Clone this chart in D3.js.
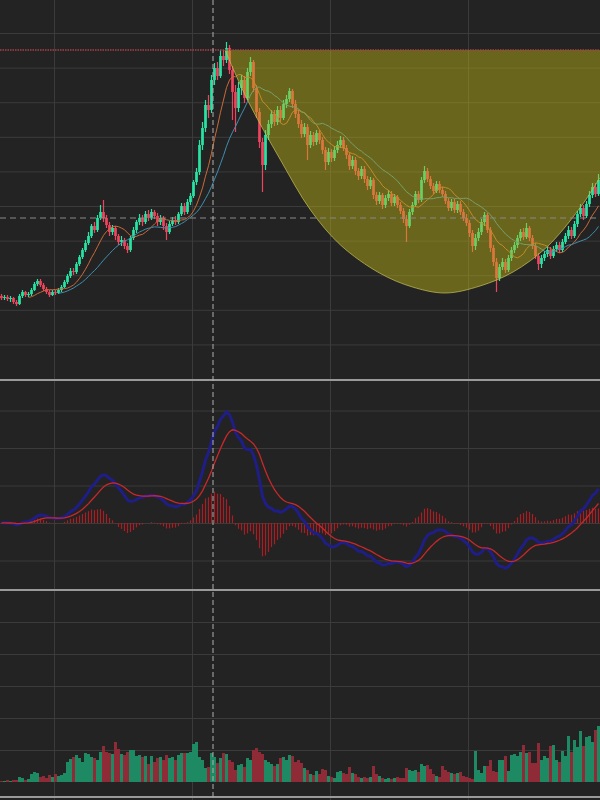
<!DOCTYPE html>
<html><head><meta charset="utf-8">
<script src="https://cdn.jsdelivr.net/npm/d3@7"></script>
<style>html,body{margin:0;padding:0;background:#232323;} svg{display:block;}</style>
</head><body>
<svg id="chart" width="600" height="800"></svg>
<script>
// ---------- data ----------
const opens = [83,81,82,80,81,77,75,83,87,84,
85,89,95,98,94,90,87,84,87,86,
89,92,97,103,108,107,115,122,129,136,
143,153,149,161,167,161,154,147,151,143,
137,139,133,129,141,149,157,161,157,165,
161,167,163,157,161,153,147,155,159,157,
165,173,167,177,183,197,207,234,251,274,
269,299,311,303,323,319,331,309,287,271,
291,299,281,307,317,291,267,237,214,244,
255,265,257,269,261,275,280,288,275,265,
255,245,252,234,244,237,246,239,229,217,
227,221,229,234,239,231,224,213,219,208,
203,210,200,193,199,184,178,184,174,181,
185,176,182,174,168,160,153,167,174,185,
179,199,208,200,193,188,195,189,185,178,
171,177,169,175,167,161,156,146,133,141,
147,157,164,149,131,117,101,112,117,109,
121,129,134,141,147,142,151,141,133,123,
115,121,125,129,123,130,134,129,137,143,
149,143,155,165,171,163,175,184,192,185];
const closes = [81,82,80,81,77,75,83,87,84,85,
89,95,98,94,90,87,84,87,86,89,
92,97,103,108,107,115,122,129,136,143,
153,149,161,167,161,154,147,151,143,137,
139,133,129,141,149,157,161,157,165,161,
167,163,157,161,153,147,155,159,157,165,
173,167,177,183,197,207,234,251,274,269,
299,311,303,323,319,331,309,287,271,291,
299,281,307,317,291,267,237,214,244,255,
265,257,269,261,275,280,288,275,265,255,
245,252,234,244,237,246,239,229,217,227,
221,229,234,239,231,224,213,219,208,203,
210,200,193,199,184,178,184,174,181,185,
176,182,174,168,160,153,167,174,185,179,
199,208,200,193,188,195,189,185,178,171,
177,169,175,167,161,156,146,133,141,147,
157,164,149,131,117,101,112,117,109,121,
129,134,141,147,142,151,141,133,123,115,
121,125,129,123,130,134,129,137,143,149,
143,155,165,171,163,175,184,192,185,199];
const highs = [85,84,84,83,82,79,85,89,88,87,
91,97,100,100,96,92,89,89,89,91,
94,99,105,111,111,117,124,131,139,147,
155,157,164,174,179,164,157,154,153,145,
143,141,136,143,152,159,165,164,168,169,
170,169,166,164,163,156,158,162,163,167,
176,176,180,186,199,211,239,257,279,284,
304,316,317,329,329,337,334,313,294,297,
304,303,311,322,319,294,271,241,249,259,
269,269,273,273,279,284,291,290,279,269,
259,256,255,248,247,249,249,242,232,231,
230,233,238,243,242,234,227,223,222,211,
213,213,203,202,201,187,187,186,184,189,
188,185,184,177,171,164,170,177,188,188,
202,213,211,203,196,198,198,192,188,181,
180,180,178,178,170,165,159,149,145,151,
160,167,166,152,134,121,115,121,120,124,
132,137,144,150,151,156,153,144,136,126,
124,128,132,132,133,137,137,140,146,153,
152,158,168,175,174,178,188,196,196,205];
const lows = [79,79,78,77,75,73,74,81,82,82,
83,88,93,92,88,85,82,83,84,85,
87,91,95,101,104,105,113,120,127,134,
141,146,147,159,157,151,143,144,139,134,
133,130,126,127,139,146,154,153,155,158,
159,160,153,154,149,139,145,153,154,155,
163,164,165,174,181,194,204,229,247,261,
266,294,299,301,313,316,305,259,247,267,
284,276,279,303,287,261,231,187,209,239,
251,253,254,257,259,271,277,271,261,251,
241,242,219,231,233,234,235,225,209,214,
217,218,226,231,228,220,209,210,204,199,
200,196,189,190,180,174,175,170,171,178,
173,173,171,165,156,137,151,164,172,176,
177,196,197,190,185,186,186,182,175,168,
168,166,166,164,158,153,142,127,129,138,
144,153,146,127,113,87,98,109,106,107,
118,126,131,138,139,140,138,130,120,109,
111,118,122,120,121,127,126,127,135,140,
140,141,152,162,159,161,172,181,182,183];
const volumes = [1,1,2,1,2,2,5,4,2,3,
8,10,9,5,6,4,7,5,8,6,
7,9,20,23,25,27,24,20,29,28,
25,24,22,30,36,30,29,28,40,33,
28,27,30,32,32,26,27,25,26,18,
26,20,24,25,22,27,24,25,22,27,
29,29,29,30,38,40,25,22,14,15,
29,25,19,24,29,28,22,20,12,17,
18,15,24,22,32,34,30,28,22,20,
18,16,18,24,25,22,27,26,20,22,
19,14,12,8,7,11,8,13,12,6,
5,4,10,11,9,8,15,9,8,5,
4,5,4,5,16,8,6,4,3,4,
3,4,5,4,4,14,12,11,12,10,
18,16,17,13,8,6,5,16,12,10,
9,8,9,10,6,5,4,3,31,12,
9,16,16,22,11,10,22,22,26,11,
27,28,26,30,37,29,30,19,19,39,
22,26,24,36,37,22,20,31,26,46,
30,42,35,51,36,45,46,40,52,56];

// cup pattern outline (candle index, price)
const cupIndex = [74.5, 82, 93, 103, 113, 126, 137, 148, 159.5, 170.5, 181.8, 192.8, 199.5, 202];
const cupPrice = [329, 279, 219, 169, 134, 106, 92, 86, 93, 107, 132, 171, 201, 212];
const resistancePrice = 329;
const crosshairIndex = 70.5;
const crosshairPrice = 161;
const maPeriods = [10, 20];
const priceGrid = [34.6, 69.2, 103.8, 138.4, 173, 207.6, 242.2, 276.8, 311.4, 346];
const macdGridSteps = [-1, 0, 1, 2, 3];
const volumeGrid = [32, 64, 96, 128, 160];
const xGridIndex = [18, 64, 110, 156];

// ---------- layout ----------
const W = 600, H = 800;
const mainTop = 0, mainBottom = 380;
const macdTop = 381, macdBottom = 590, macdZero = 523, macdStepPx = 37.5;
const volTop = 591, volBase = 782, volBottom = 797;
const upColor = '#27e3a4', downColor = '#f0445e';
const upVol = '#1e8a63', downVol = '#8e2b37';
const gridColor = '#3b3b3b';

const svg = d3.select('#chart');
svg.append('rect').attr('width', W).attr('height', H).attr('fill', '#232323');
const defs = svg.append('defs');
function clip(id, y0, y1) {
  defs.append('clipPath').attr('id', id).append('rect')
    .attr('x', 0).attr('y', y0).attr('width', W).attr('height', y1 - y0);
}
clip('cMain', mainTop, mainBottom);
clip('cMacd', macdTop, macdBottom);
clip('cVol', volTop, volBottom);

const n = closes.length;
const x = d3.scaleLinear().domain([0, n]).range([0, W]);
const cx = i => x(i + 0.5);
const yP = d3.scaleLinear().domain([0, 379]).range([379, 0]);
const yV = d3.scaleLinear().domain([0, volBase - volTop]).range([volBase, volTop]);

// ---------- indicators ----------
function sma(arr, k) { return arr.map((v, i) => i < k - 1 ? null : d3.mean(arr.slice(i - k + 1, i + 1))); }
function ema(arr, k) { const a = 2 / (k + 1); const out = []; arr.forEach((v, i) => out.push(i === 0 ? v : v * a + out[i - 1] * (1 - a))); return out; }
const e12 = ema(closes, 12), e26 = ema(closes, 26);
const dif = e12.map((v, i) => v - e26[i]);
const dea = ema(dif, 9);
const hist = dif.map((v, i) => v - dea[i]);
const macdUnit = d3.max(dif) / ((macdZero - 412) / macdStepPx);
const yM = d3.scaleLinear()
  .domain([-(macdBottom - macdZero) / macdStepPx * macdUnit, (macdZero - macdTop) / macdStepPx * macdUnit])
  .range([macdBottom, macdTop]);

// ---------- grids ----------
const gH = svg.append('g');
gH.append('g').call(d3.axisLeft(yP).tickValues(priceGrid).tickSize(-W).tickFormat(''));
gH.append('g').call(d3.axisLeft(yM).tickValues(macdGridSteps.map(s => s * macdUnit)).tickSize(-W).tickFormat(''));
gH.append('g').call(d3.axisLeft(yV).tickValues(volumeGrid).tickSize(-W).tickFormat(''));
gH.append('g').attr('transform', `translate(0,${H})`)
  .call(d3.axisBottom(x).tickValues(xGridIndex).tickSize(-H).tickFormat(''));
gH.selectAll('.domain').remove();
gH.selectAll('line').attr('stroke', gridColor).attr('stroke-width', 1);

// ---------- main panel ----------
const gMain = svg.append('g').attr('clip-path', 'url(#cMain)');
const idx = d3.range(n);
gMain.selectAll('line.wick').data(idx).join('line')
  .attr('x1', i => cx(i)).attr('x2', i => cx(i))
  .attr('y1', i => yP(highs[i])).attr('y2', i => yP(lows[i]))
  .attr('stroke', i => closes[i] >= opens[i] ? upColor : downColor).attr('stroke-width', 1.2);
const bw = 2.7;
gMain.selectAll('rect.body').data(idx).join('rect')
  .attr('x', i => cx(i) - bw / 2).attr('width', bw)
  .attr('y', i => yP(Math.max(opens[i], closes[i])))
  .attr('height', i => Math.max(1, Math.abs(yP(opens[i]) - yP(closes[i]))))
  .attr('fill', i => closes[i] >= opens[i] ? upColor : downColor);

const maColors = ['#c96a38', '#3f8fb0'];
maPeriods.forEach((p, k) => {
  const ma = sma(closes, p);
  gMain.append('path').datum(idx)
    .attr('d', d3.line().defined(i => ma[i] != null).x(i => cx(i)).y(i => yP(ma[i])))
    .attr('fill', 'none').attr('stroke', maColors[k]).attr('stroke-width', 1);
});

// cup pattern
const cupIdx = d3.range(cupIndex.length);
gMain.append('path').datum(cupIdx)
  .attr('d', d3.area().curve(d3.curveCatmullRom)
    .x(j => cx(cupIndex[j])).y0(yP(resistancePrice)).y1(j => yP(cupPrice[j])))
  .attr('fill', 'rgb(190,182,20)').attr('fill-opacity', 0.45);
gMain.append('path').datum(cupIdx)
  .attr('d', d3.line().curve(d3.curveCatmullRom).x(j => cx(cupIndex[j])).y(j => yP(cupPrice[j])))
  .attr('fill', 'none').attr('stroke', '#c9c25a').attr('stroke-opacity', 0.7).attr('stroke-width', 1);
gMain.append('line')
  .attr('x1', 0).attr('x2', W).attr('y1', yP(resistancePrice)).attr('y2', yP(resistancePrice))
  .attr('stroke', '#a8404c').attr('stroke-width', 1.5).attr('stroke-dasharray', '1.5,1');
gMain.append('line')
  .attr('x1', 0).attr('x2', W).attr('y1', yP(crosshairPrice)).attr('y2', yP(crosshairPrice))
  .attr('stroke', '#8a8a8a').attr('stroke-width', 1).attr('stroke-dasharray', '6,4');

// ---------- MACD panel ----------
const gM = svg.append('g').attr('clip-path', 'url(#cMacd)');
gM.selectAll('line.h').data(idx).join('line')
  .attr('x1', i => cx(i)).attr('x2', i => cx(i))
  .attr('y1', yM(0)).attr('y2', i => yM(hist[i]))
  .attr('stroke', '#a81e22').attr('stroke-width', 1.2);
gM.append('path').datum(idx)
  .attr('d', d3.line().x(i => cx(i)).y(i => yM(dif[i])))
  .attr('fill', 'none').attr('stroke', '#1e1e86').attr('stroke-width', 3);
gM.append('path').datum(idx)
  .attr('d', d3.line().x(i => cx(i)).y(i => yM(dea[i])))
  .attr('fill', 'none').attr('stroke', '#c8282a').attr('stroke-width', 1.3);

// ---------- volume panel ----------
const gV = svg.append('g').attr('clip-path', 'url(#cVol)');
gV.selectAll('rect.v').data(idx).join('rect')
  .attr('x', i => cx(i) - 1.5).attr('width', 3)
  .attr('y', i => yV(volumes[i])).attr('height', i => yV(0) - yV(volumes[i]))
  .attr('fill', i => closes[i] >= opens[i] ? upVol : downVol);

// ---------- separators & crosshair ----------
[mainBottom, macdBottom, volBottom].forEach(yy => {
  svg.append('line').attr('x1', 0).attr('x2', W).attr('y1', yy).attr('y2', yy)
    .attr('stroke', '#9a9a9a').attr('stroke-width', 2);
});
svg.append('line')
  .attr('x1', cx(crosshairIndex)).attr('x2', cx(crosshairIndex)).attr('y1', 0).attr('y2', H)
  .attr('stroke', '#b0b0b0').attr('stroke-width', 1).attr('stroke-dasharray', '5,3');
</script>
</body></html>
